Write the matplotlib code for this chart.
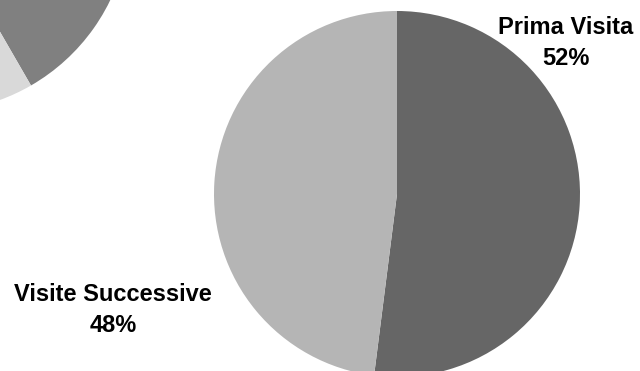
import matplotlib.pyplot as plt

plt.rcParams['font.family'] = ['Liberation Sans', 'DejaVu Sans']

# main pie
labels = ['Prima Visita', 'Visite Successive']
values = [52, 48]
colors = ['#666666', '#b5b5b5']

# pie partly cut off at the top-left corner
other_values = [55, 45]
other_colors = ['#808080', '#d9d9d9']

W, H = 640, 371
fig = plt.figure(figsize=(W / 100, H / 100), dpi=100)


def pie_axes(cx, cy, r):
    # cx, cy, r in pixels, y measured from the top
    ax = fig.add_axes([(cx - r) / W, (H - cy - r) / H, 2 * r / W, 2 * r / H])
    ax.axis('off')
    return ax


def fix_limits(ax):
    ax.set_xlim(-1, 1)
    ax.set_ylim(-1, 1)
    ax.set_aspect('equal')


ax0 = pie_axes(-68, -86, 198)
ax0.pie(other_values, colors=other_colors, startangle=-60, counterclock=True,
        radius=1, wedgeprops={'linewidth': 0})
fix_limits(ax0)

ax = pie_axes(397, 194, 183)
ax.pie(values, colors=colors, startangle=90, counterclock=False,
       radius=1, wedgeprops={'linewidth': 0})
fix_limits(ax)

# labels
fig.text(566 / W, 1 - 43 / H, f'{labels[0]}\n{values[0]}%', ha='center', va='center',
         fontsize=17, fontweight='bold', linespacing=1.45)
fig.text(113 / W, 1 - 310 / H, f'{labels[1]}\n{values[1]}%', ha='center', va='center',
         fontsize=17, fontweight='bold', linespacing=1.45)

fig.savefig('out.png', dpi=100)
